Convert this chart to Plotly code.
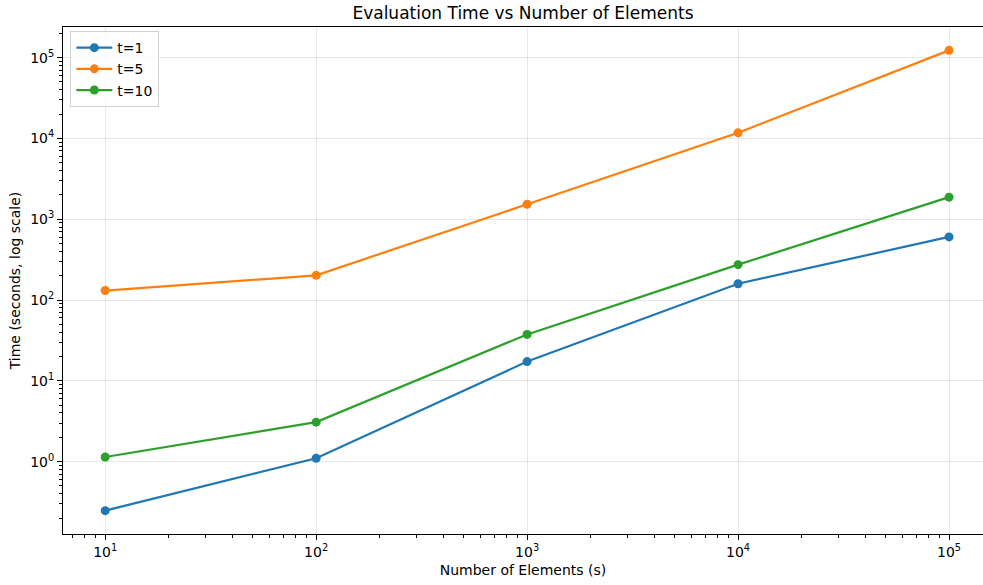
import plotly.graph_objects as go

elements = [10, 100, 1000, 10000, 100000]
t1 = [0.247, 1.10, 17.3, 159, 604]
t5 = [131, 202, 1530, 11760, 123000]
t10 = [1.14, 3.08, 37.5, 274, 1875]
series = [("t=1", t1, "#1f77b4"), ("t=5", t5, "#ff7f0e"), ("t=10", t10, "#2ca02c")]

x_tickvals = [10, 100, 1000, 10000, 100000]
x_ticktext = ["10<sup>1</sup>", "10<sup>2</sup>", "10<sup>3</sup>", "10<sup>4</sup>", "10<sup>5</sup>"]
y_tickvals = [1, 10, 100, 1000, 10000, 100000]
y_ticktext = ["10<sup>0</sup>", "10<sup>1</sup>", "10<sup>2</sup>", "10<sup>3</sup>", "10<sup>4</sup>", "10<sup>5</sup>"]

minor_x = [m * 10 ** e for e in range(0, 6) for m in range(2, 10)]
minor_y = [m * 10 ** e for e in range(-1, 6) for m in range(2, 10)]

fig = go.Figure()
for name, vals, col in series:
    fig.add_trace(go.Scatter(x=elements, y=vals, name=name, mode="lines+markers",
                             line=dict(color=col, width=2.2),
                             marker=dict(color=col, size=9)))

font = dict(family="DejaVu Sans", size=14, color="black")
grid = "rgba(176,176,176,0.3)"
fig.update_layout(
    width=983, height=585,
    margin=dict(l=63, r=0, t=27, b=51),
    paper_bgcolor="white", plot_bgcolor="white",
    font=font,
    title=dict(text="Evaluation Time vs Number of Elements", x=0.5, xref="paper",
               y=1 - 13/585, yanchor="middle", font=dict(family="DejaVu Sans", size=17)),
    legend=dict(x=0.008, y=0.992, xanchor="left", yanchor="top",
                bgcolor="rgba(255,255,255,0.8)", bordercolor="#d0d0d0", borderwidth=1,
                font=dict(family="DejaVu Sans", size=14), tracegroupgap=1, itemwidth=36),
    showlegend=True,
)
fig.update_xaxes(type="log", range=[0.8, 5.161],
                 tickvals=x_tickvals, ticktext=x_ticktext,
                 ticks="outside", ticklen=5, tickcolor="black",
                 showline=True, linecolor="black", linewidth=1, mirror=True,
                 showgrid=True, gridcolor=grid, gridwidth=1, zeroline=False,
                 minor=dict(tickmode="array", tickvals=minor_x, ticks="outside", ticklen=3,
                            tickcolor="black", showgrid=False),
                 title=dict(text="Number of Elements (s)", standoff=6, font=font))
fig.update_yaxes(type="log", range=[-0.896, 5.379],
                 tickvals=y_tickvals, ticktext=y_ticktext,
                 ticks="outside", ticklen=5, tickcolor="black",
                 showline=True, linecolor="black", linewidth=1, mirror=False,
                 showgrid=True, gridcolor=grid, gridwidth=1, zeroline=False,
                 minor=dict(tickmode="array", tickvals=minor_y, ticks="outside", ticklen=3,
                            tickcolor="black", showgrid=False),
                 title=dict(text="Time (seconds, log scale)", standoff=6, font=font))

fig.write_html("out.html")
